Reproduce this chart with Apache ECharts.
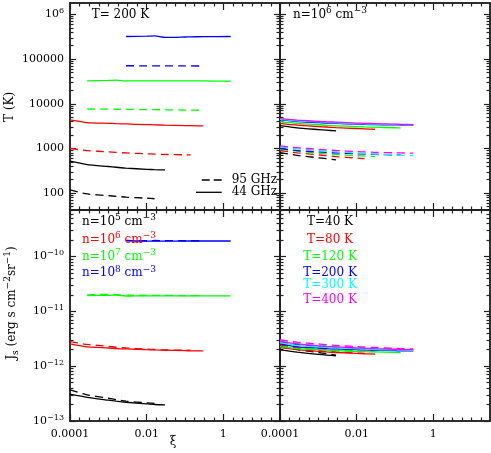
<!DOCTYPE html>
<html>
<head>
<meta charset="utf-8">
<script src="https://cdn.jsdelivr.net/npm/echarts@6/dist/echarts.min.js"></script>
<style>
  html, body { margin: 0; padding: 0; background: #fff; }
  #chart { width: 491px; height: 453px; }
</style>
</head>
<body>
<div id="chart"></div>
<script>
// shared xi grid (abscissa of every curve)
const XI = [1e-4, 2.8e-4, 1e-3, 1.6e-3, 2.9e-3, 1e-2, 1.6e-2, 3e-2, 0.1, 0.14, 0.3, 1.55];

// tick labels
const xMajorTicks = [1e-4, 1e-2, 1];
const yTopMajorTicks = [100, 1000, 10000, 100000, 1000000];
const yBotMajorTicks = [1e-13, 1e-12, 1e-11, 1e-10];

// top left: T (K) vs xi, T = 200 K, n = 1e5..1e8 (44 GHz solid, 95 GHz dashed)
const tl44_n5 = [519, 436, 395, 380, 362, 342, 336, 331, null, null, null, null];
const tl95_n5 = [118, 96, 88, 85, 81.5, 77, 75, null, null, null, null, null];
const tl44_n6 = [4350, 3790, 3660, 3600, 3540, 3420, 3380, 3320, 3260, 3240, 3190, null];
const tl95_n6 = [1000, 896, 840, 815, 795, 760, 748, 735, 722, 718, null, null];
const tl44_n7 = [null, 32600, 33300, 33700, 32400, 32700, 32700, 32600, 32500, 32500, 32400, 32200];
const tl95_n7 = [null, 7650, 7600, 7550, 7500, 7400, 7380, 7330, 7250, 7220, 7150, null];
const tl44_n8 = [null, null, null, null, 320000, 325000, 332000, 305000, 312000, 315000, 317000, 320000];
const tl95_n8 = [null, null, null, null, 71000, 70800, 70700, 70600, 70400, 70300, 70000, null];

// top right: T (K) vs xi, n = 1e6, T = 40..400 K
const tr44_T40  = [3240, 2900, 2650, 2570, 2470, null, null, null, null, null, null, null];
const tr44_T80  = [3660, 3350, 3100, 3020, 2930, 2800, 2750, 2690, null, null, null, null];
const tr44_T120 = [3980, 3650, 3400, 3300, 3220, 3080, 3030, 2990, 2910, 2880, null, null];
const tr44_T200 = [4350, 4000, 3800, 3720, 3640, 3500, 3460, 3420, 3370, 3350, 3330, null];
const tr44_T300 = [4500, 4150, 3920, 3840, 3750, 3590, 3550, 3500, 3420, 3400, 3380, null];
const tr44_T400 = [4650, 4300, 4050, 3960, 3870, 3700, 3660, 3600, 3500, 3470, 3420, null];
const tr95_T40  = [810, 700, 620, 590, 555, null, null, null, null, null, null, null];
const tr95_T80  = [896, 800, 720, 690, 660, 610, 590, null, null, null, null, null];
const tr95_T120 = [960, 870, 790, 760, 735, 690, 675, 658, null, null, null, null];
const tr95_T200 = [1000, 896, 840, 815, 795, 760, 748, 735, 722, 718, null, null];
const tr95_T300 = [1080, 980, 900, 870, 840, 790, 770, 750, 720, 710, 690, null];
const tr95_T400 = [1140, 1040, 960, 930, 900, 850, 835, 820, 800, 795, 783, null];

// bottom left: Js vs xi, T = 200 K, n = 1e5..1e8
const bl44_n5 = [3.08e-13, 2.7e-13, 2.4e-13, 2.3e-13, 2.2e-13, 2.05e-13, 2.0e-13, 1.97e-13, null, null, null, null];
const bl95_n5 = [3.7e-13, 3.0e-13, 2.6e-13, 2.45e-13, 2.3e-13, 2.15e-13, 2.1e-13, null, null, null, null, null];
const bl44_n6 = [2.55e-12, 2.25e-12, 2.15e-12, 2.1e-12, 2.07e-12, 2.0e-12, 1.98e-12, 1.96e-12, 1.92e-12, 1.91e-12, 1.9e-12, null];
const bl95_n6 = [2.81e-12, 2.5e-12, 2.3e-12, 2.22e-12, 2.15e-12, 2.05e-12, 2.02e-12, 1.98e-12, 1.96e-12, 1.95e-12, null, null];
const bl44_n7 = [null, 1.95e-11, 1.97e-11, 1.98e-11, 1.9e-11, 1.93e-11, 1.93e-11, 1.92e-11, 1.92e-11, 1.92e-11, 1.92e-11, 1.92e-11];
const bl95_n7 = [null, 2.0e-11, 2.05e-11, 2.03e-11, 1.98e-11, 1.97e-11, 1.96e-11, 1.96e-11, 1.95e-11, 1.95e-11, 1.95e-11, null];
const bl44_n8 = [null, null, null, null, 1.94e-10, 1.92e-10, 1.93e-10, 1.92e-10, 1.93e-10, 1.93e-10, 1.93e-10, 1.93e-10];
const bl95_n8 = [null, null, null, null, 1.98e-10, 1.95e-10, 1.97e-10, 1.96e-10, 1.95e-10, 1.95e-10, 1.95e-10, null];

// bottom right: Js vs xi, n = 1e6, T = 40..400 K
const br44_T40  = [1.98e-12, 1.8e-12, 1.65e-12, 1.6e-12, 1.54e-12, null, null, null, null, null, null, null];
const br44_T80  = [2.18e-12, 2.0e-12, 1.87e-12, 1.82e-12, 1.78e-12, 1.72e-12, 1.69e-12, 1.66e-12, null, null, null, null];
const br44_T120 = [2.28e-12, 2.1e-12, 2.0e-12, 1.96e-12, 1.92e-12, 1.86e-12, 1.84e-12, 1.82e-12, 1.79e-12, 1.77e-12, null, null];
const br44_T200 = [2.55e-12, 2.25e-12, 2.15e-12, 2.1e-12, 2.07e-12, 2.0e-12, 1.98e-12, 1.96e-12, 1.92e-12, 1.91e-12, 1.9e-12, null];
const br44_T300 = [2.7e-12, 2.4e-12, 2.25e-12, 2.2e-12, 2.15e-12, 2.07e-12, 2.05e-12, 2.02e-12, 1.98e-12, 1.97e-12, 1.95e-12, null];
const br44_T400 = [2.85e-12, 2.55e-12, 2.35e-12, 2.3e-12, 2.25e-12, 2.15e-12, 2.12e-12, 2.09e-12, 2.04e-12, 2.02e-12, 2.0e-12, null];
const br95_T40  = [2.3e-12, 2.0e-12, 1.78e-12, 1.7e-12, 1.6e-12, null, null, null, null, null, null, null];
const br95_T80  = [2.45e-12, 2.15e-12, 1.95e-12, 1.88e-12, 1.82e-12, 1.74e-12, 1.72e-12, null, null, null, null, null];
const br95_T120 = [2.6e-12, 2.3e-12, 2.1e-12, 2.03e-12, 1.97e-12, 1.9e-12, 1.87e-12, 1.85e-12, null, null, null, null];
const br95_T200 = [2.81e-12, 2.5e-12, 2.3e-12, 2.22e-12, 2.15e-12, 2.05e-12, 2.02e-12, 1.98e-12, 1.96e-12, 1.95e-12, null, null];
const br95_T300 = [2.95e-12, 2.65e-12, 2.45e-12, 2.37e-12, 2.3e-12, 2.2e-12, 2.16e-12, 2.12e-12, 2.06e-12, 2.04e-12, 2.0e-12, null];
const br95_T400 = [3.02e-12, 2.75e-12, 2.55e-12, 2.47e-12, 2.4e-12, 2.28e-12, 2.24e-12, 2.2e-12, 2.12e-12, 2.1e-12, 2.07e-12, null];

const BLACK = "#000000", RED = "#ff0000", GREEN = "#00ff00", BLUE = "#0000ff", CYAN = "#00ffff", MAGENTA = "#ff00ff";
const FONT = '"DejaVu Serif", serif';

// minor ticks: quarter decades on xi, 2..9 on the y axes
const xMinorTicks = [];
for (let k = -16; k <= 5; k++) if (k % 8 !== 0) xMinorTicks.push(Math.pow(10, k / 4));
const logMinors = (d0, d1) => {
  const out = [];
  for (let d = d0; d <= d1; d++) for (let m = 2; m <= 9; m++) out.push(m * Math.pow(10, d));
  return out;
};
const yTopMinorTicks = logMinors(1, 6);
const yBotMinorTicks = logMinors(-14, -10);

const xRange = [0.99999e-4, 30];
const yTopRange = [42, 1.8e6];
const yBotRange = [0.99999e-13, 7.1e-10];

const grids = [
  { left: 70, top: 3, width: 210, height: 207 },
  { left: 280, top: 3, width: 210, height: 207 },
  { left: 70, top: 210, width: 210, height: 211 },
  { left: 280, top: 210, width: 210, height: 211 },
].map((g) => ({ ...g, containLabel: false, outerBoundsMode: "none" }));

const labelRich = {
  b: { fontFamily: FONT, fontSize: 11, color: "#000", lineHeight: 15 },
  s: { fontFamily: FONT, fontSize: 8, color: "#000", lineHeight: 8, verticalAlign: "top" },
};

function axis(gridIndex, position, range, ticks, len, label) {
  return {
    type: "log",
    logBase: 10,
    gridIndex,
    position,
    min: range[0],
    max: range[1],
    axisLine: { show: true, onZero: false, lineStyle: { color: "#222", width: 1.5 } },
    axisTick: { show: true, inside: true, length: len, customValues: ticks, lineStyle: { color: "#222", width: 1.2 } },
    axisLabel: label || { show: false },
    splitLine: { show: false },
    minorTick: { show: false },
    minorSplitLine: { show: false },
  };
}

const xLabel = {
  show: true,
  customValues: xMajorTicks,
  margin: 8,
  hideOverlap: false,
  fontFamily: FONT,
  fontSize: 11,
  color: "#000",
  formatter: (v) => String(v),
};
const yTopLabel = {
  show: true,
  customValues: yTopMajorTicks,
  margin: 6,
  hideOverlap: false,
  fontFamily: FONT,
  fontSize: 11,
  color: "#000",
  rich: labelRich,
  formatter: (v) => (v >= 1e6 ? "{b|10}{s|" + Math.round(Math.log10(v)) + "}" : String(Math.round(v))),
};
const yBotLabel = {
  show: true,
  customValues: yBotMajorTicks,
  margin: 6,
  hideOverlap: false,
  fontFamily: FONT,
  fontSize: 11,
  color: "#000",
  rich: labelRich,
  formatter: (v) => "{b|10}{s|\u2212" + -Math.round(Math.log10(v)) + "}",
};

const xAxes = [];
const yAxes = [];
grids.forEach((g, i) => {
  const bottomRow = i >= 2;
  const yRange = bottomRow ? yBotRange : yTopRange;
  const yMaj = bottomRow ? yBotMajorTicks : yTopMajorTicks;
  const yMin = bottomRow ? yBotMinorTicks : yTopMinorTicks;
  xAxes.push(
    axis(i, "bottom", xRange, xMajorTicks, 7, bottomRow ? xLabel : null),
    axis(i, "bottom", xRange, xMinorTicks, 3.5),
    axis(i, "top", xRange, xMajorTicks, 7),
    axis(i, "top", xRange, xMinorTicks, 3.5)
  );
  const lbl = i === 0 ? yTopLabel : i === 2 ? yBotLabel : null;
  yAxes.push(
    axis(i, "left", yRange, yMaj, 6, lbl),
    axis(i, "left", yRange, yMin, 3.5),
    axis(i, "right", yRange, yMaj, 6),
    axis(i, "right", yRange, yMin, 3.5)
  );
});

const series = [];
function addLine(panel, values, color, dashed) {
  series.push({
    type: "line",
    xAxisIndex: panel * 4,
    yAxisIndex: panel * 4,
    data: XI.map((x, i) => [x, values[i]]).filter((p) => p[1] != null),
    showSymbol: false,
    smooth: 0.2,
    silent: true,
    animation: false,
    lineStyle: { color, width: 1.3, type: dashed ? [8, 5] : "solid" },
  });
}

addLine(0, tl44_n5, BLACK, false); addLine(0, tl95_n5, BLACK, true);
addLine(0, tl44_n6, RED, false);   addLine(0, tl95_n6, RED, true);
addLine(0, tl44_n7, GREEN, false); addLine(0, tl95_n7, GREEN, true);
addLine(0, tl44_n8, BLUE, false);  addLine(0, tl95_n8, BLUE, true);

[[tr44_T40, tr95_T40, BLACK], [tr44_T80, tr95_T80, RED], [tr44_T120, tr95_T120, GREEN],
 [tr44_T200, tr95_T200, BLUE], [tr44_T300, tr95_T300, CYAN], [tr44_T400, tr95_T400, MAGENTA]]
  .forEach(([s, d, c]) => { addLine(1, s, c, false); addLine(1, d, c, true); });

addLine(2, bl44_n5, BLACK, false); addLine(2, bl95_n5, BLACK, true);
addLine(2, bl44_n6, RED, false);   addLine(2, bl95_n6, RED, true);
addLine(2, bl44_n7, GREEN, false); addLine(2, bl95_n7, GREEN, true);
addLine(2, bl44_n8, BLUE, false);  addLine(2, bl95_n8, BLUE, true);

[[br44_T40, br95_T40, BLACK], [br44_T80, br95_T80, RED], [br44_T120, br95_T120, GREEN],
 [br44_T200, br95_T200, BLUE], [br44_T300, br95_T300, CYAN], [br44_T400, br95_T400, MAGENTA]]
  .forEach(([s, d, c]) => { addLine(3, s, c, false); addLine(3, d, c, true); });

// annotation text (rich text for super/subscripts)
function richFor(color) {
  return {
    b: { fontFamily: FONT, fontSize: 12, fill: color, lineHeight: 17 },
    s: { fontFamily: FONT, fontSize: 9, fill: color, lineHeight: 9, verticalAlign: "top" },
    u: { fontFamily: FONT, fontSize: 9, fill: color, lineHeight: 9, verticalAlign: "bottom" },
  };
}
function label(x, y, text, color, align, rotation) {
  return {
    type: "text",
    x, y, z: 100,
    rotation: rotation || 0,
    silent: true,
    style: { text, fill: color, font: "12px " + FONT, align: align || "left", verticalAlign: "middle", rich: richFor(color) },
  };
}
const dens = (p) => "{b|n=10}{s|" + p + "}{b| cm}{s|\u22123}";

const graphics = [
  label(91.7, 15, "{b|T= 200 K}", BLACK),
  label(293, 15, dens(6), BLACK),
  label(82, 222, dens(5), BLACK),
  label(82, 240, dens(6), RED),
  label(82, 256.7, dens(7), GREEN),
  label(82, 273.3, dens(8), BLUE),
  label(330, 222, "{b|T=40 K}", BLACK, "center"),
  label(330, 240, "{b|T=80 K}", RED, "center"),
  label(330, 256.7, "{b|T=120 K}", GREEN, "center"),
  label(330, 273.3, "{b|T=200 K}", BLUE, "center"),
  label(330, 285, "{b|T=300 K}", CYAN, "center"),
  label(330, 300, "{b|T=400 K}", MAGENTA, "center"),
  label(231.7, 180, "{b|95 GHz}", BLACK),
  label(231.7, 192.3, "{b|44 GHz}", BLACK),
  label(10, 107, "{b|T (K)}", BLACK, "center", Math.PI / 2),
  label(12, 303, "{b|J}{u|s}{b| (erg s cm}{s|\u22122}{b|sr}{s|\u22121}{b|)}", BLACK, "center", Math.PI / 2),
  label(173, 442, "{b|\u03be}", BLACK, "center"),
  {
    type: "line", z: 100, silent: true,
    shape: { x1: 201.7, y1: 180, x2: 221.7, y2: 180 },
    style: { stroke: BLACK, lineWidth: 1.3, lineDash: [8, 4] },
  },
  {
    type: "line", z: 100, silent: true,
    shape: { x1: 196, y1: 192.3, x2: 221.7, y2: 192.3 },
    style: { stroke: BLACK, lineWidth: 1.3 },
  },
];

const chart = echarts.init(document.getElementById("chart"));
chart.setOption({
  backgroundColor: "#ffffff",
  animation: false,
  grid: grids,
  xAxis: xAxes,
  yAxis: yAxes,
  series,
  graphic: graphics,
});
</script>
</body>
</html>
